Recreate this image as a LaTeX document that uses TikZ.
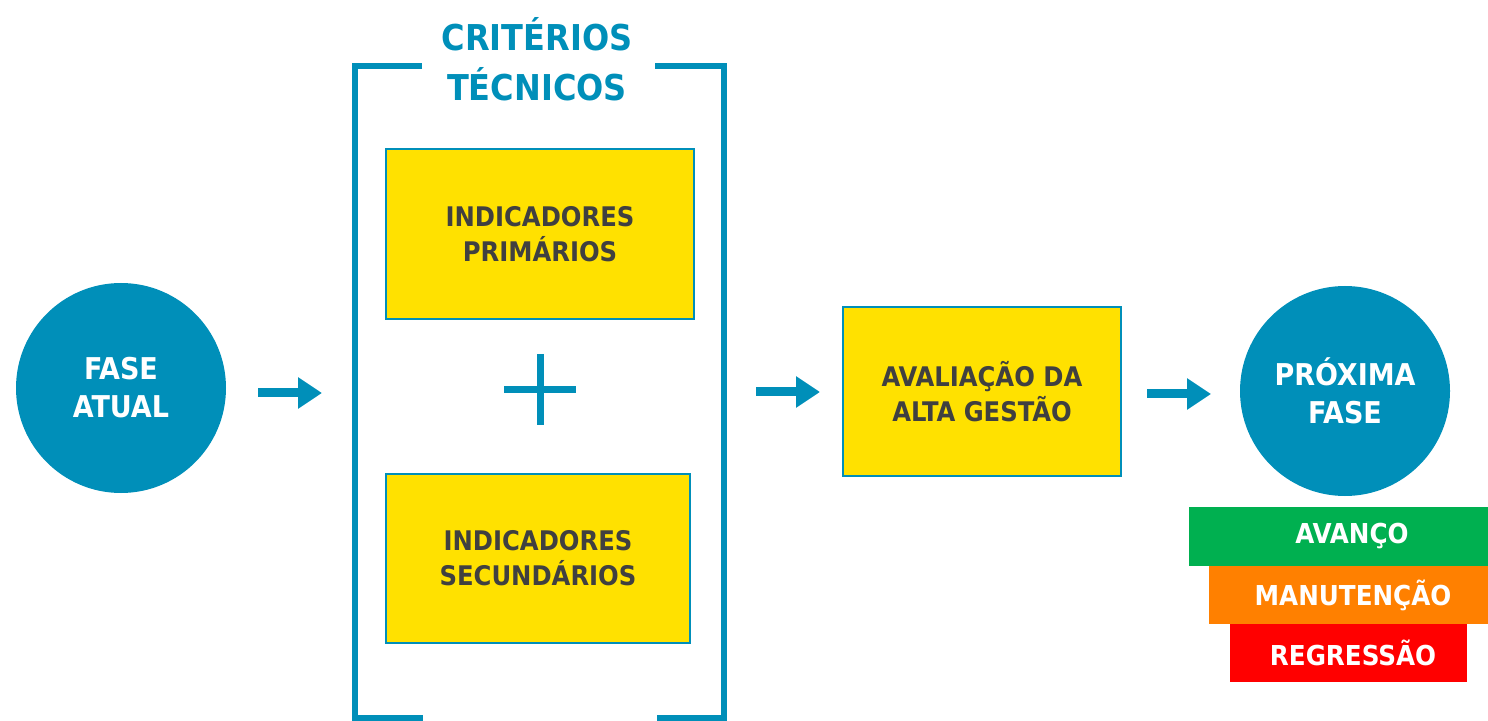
\documentclass[tikz,border=0pt]{standalone}
\usepackage{fontspec}
\setmainfont{DejaVu Sans Condensed}
\usetikzlibrary{arrows.meta,positioning}

\definecolor{azul}{RGB}{0,143,185}
\definecolor{amarelo}{RGB}{255,225,0}
\definecolor{cinza}{RGB}{64,64,64}
\definecolor{verde}{RGB}{0,176,80}
\definecolor{laranja}{RGB}{255,128,0}
\definecolor{vermelho}{RGB}{255,0,0}

\tikzset{
    fase/.style={circle, fill=azul, minimum size=105pt, inner sep=0pt,
        text=white, align=center, font=\bfseries\fontsize{15}{19}\selectfont},
    caixa/.style={rectangle, draw=azul, line width=1pt, fill=amarelo, inner sep=0pt,
        text=cinza, align=center, font=\bfseries\fontsize{13.5}{17.5}\selectfont},
    seta/.style={azul, line width=4.5pt, -{Triangle[length=12pt 0 0, width=15pt 0 0]}},
    faixa/.style={text=white, font=\bfseries\fontsize{13.7}{17}\selectfont},
}

\begin{document}
\begin{tikzpicture}[x=0.5pt, y=-0.5pt]
    \useasboundingbox (0,0) rectangle (1488,721);
    % fases
    \node[fase] (atual) at (121,388) {FASE\\ATUAL};
    \node[fase] (proxima) at (1345,391) {PRÓXIMA\\FASE};
    % criterios tecnicos
    \draw[azul, line width=3.25pt] (422,66) -- (355,66) -- (355,718) -- (423,718);
    \draw[azul, line width=3.25pt] (655,66) -- (724,66) -- (724,718) -- (657,718);
    \node[text=azul, align=center, font=\bfseries\fontsize{17.8}{25}\selectfont]
        (titulo) at (537,59) {CRITÉRIOS\\TÉCNICOS};
    \node[caixa, minimum width=154pt, minimum height=85pt] (primarios) at (540,234)
        {INDICADORES\\PRIMÁRIOS};
    \node[caixa, minimum width=152pt, minimum height=84.5pt] (secundarios) at (538,558.5)
        {INDICADORES\\SECUNDÁRIOS};
    % mais
    \coordinate (mais) at (540,390);
    \draw[azul, line width=3.5pt] ([xshift=-18pt]mais) -- ([xshift=18pt]mais)
        ([yshift=18pt]mais) -- ([yshift=-17.5pt]mais);
    % alta gestao
    \node[caixa, minimum width=139pt, minimum height=84.5pt] (gestao) at (982,391.5)
        {AVALIAÇÃO DA\\ALTA GESTÃO};
    % setas
    \coordinate (s1a) at (258,393);
    \coordinate (s1b) at (322,393);
    \coordinate (s2a) at (756,392);
    \coordinate (s2b) at (820,392);
    \coordinate (s3a) at (1147,394);
    \coordinate (s3b) at (1211,394);
    \draw[seta] (s1a) -- (s1b);
    \draw[seta] (s2a) -- (s2b);
    \draw[seta] (s3a) -- (s3b);
    % resultados
    \fill[verde] (1189,507) rectangle (1488,566);
    \fill[laranja] (1209,566) rectangle (1488,624);
    \fill[vermelho] (1230,624) rectangle (1467,682);
    \node[faixa] (avanco) at (1352,536.5) {AVANÇO};
    \node[faixa] (manutencao) at (1353,595) {MANUTENÇÃO};
    \node[faixa] (regressao) at (1353,653) {REGRESSÃO};
\end{tikzpicture}
\end{document}
